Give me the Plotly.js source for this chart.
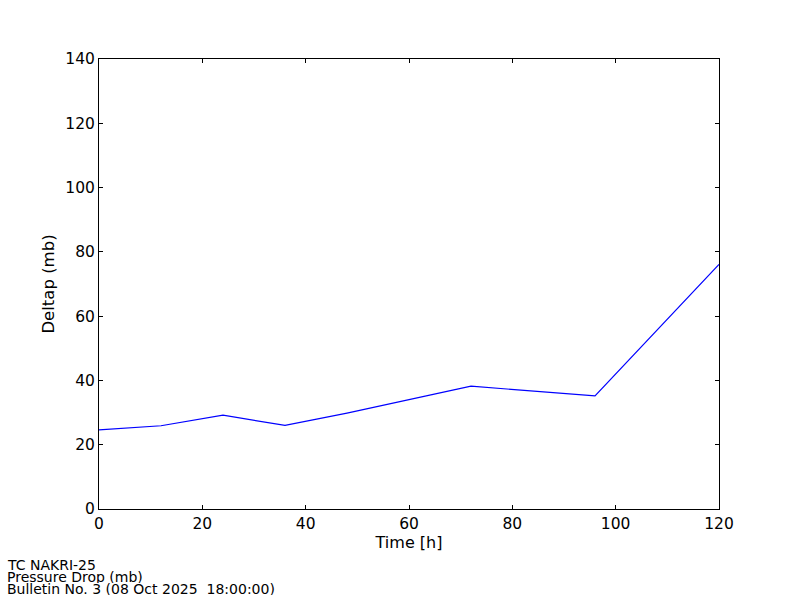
<!DOCTYPE html>
<html>
<head>
<meta charset="utf-8">
<script src="https://cdn.plot.ly/plotly-3.0.1.min.js"></script>
<style>html,body{margin:0;padding:0;background:#fff;}</style>
</head>
<body>
<div id="chart" style="width:800px;height:600px;"></div>
<script>
const timeHours = [0, 12, 24, 36, 48, 72, 96, 120];
const deltap = [24.6, 25.9, 29.2, 26.0, 29.8, 38.2, 35.2, 76.1];
const footerLines = ["TC NAKRI-25", "Pressure Drop (mb)", "Bulletin No. 3 (08 Oct 2025  18:00:00)"];

const font = "DejaVu Sans, sans-serif";
const axisCommon = {
  showgrid: false, zeroline: false, showline: true, linecolor: "#000", linewidth: 1,
  mirror: "ticks", ticks: "inside", ticklen: 4, tickcolor: "#000", tickwidth: 1,
  tickfont: {family: font, size: 15.5, color: "#000"}
};

const footerYs = [565, 577, 589];
const annotations = footerLines.map((t, i) => ({
  text: t, showarrow: false, xref: "paper", yref: "paper",
  x: (6 - 99) / 620, y: (509 - footerYs[i]) / 450,
  xanchor: "left", yanchor: "middle", align: "left",
  borderpad: 0, height: 12,
  font: {family: font, size: 14, color: "#000"}
}));

Plotly.newPlot("chart", [{
  x: timeHours, y: deltap, type: "scatter", mode: "lines",
  line: {color: "#0000ff", width: 1.2}
}], {
  width: 800, height: 600,
  margin: {l: 99, r: 81, t: 59, b: 91},
  paper_bgcolor: "#fff", plot_bgcolor: "#fff",
  showlegend: false,
  xaxis: Object.assign({}, axisCommon, {
    range: [0, 120], tickvals: [0, 20, 40, 60, 80, 100, 120],
    title: {text: "Time [h]", font: {family: font, size: 16, color: "#000"}, standoff: 4}
  }),
  yaxis: Object.assign({}, axisCommon, {
    range: [0, 140], tickvals: [0, 20, 40, 60, 80, 100, 120, 140],
    title: {text: "Deltap (mb)", font: {family: font, size: 16.5, color: "#000"}, standoff: 6}
  }),
  annotations: annotations
}, {displayModeBar: false, staticPlot: true});
</script>
</body>
</html>
